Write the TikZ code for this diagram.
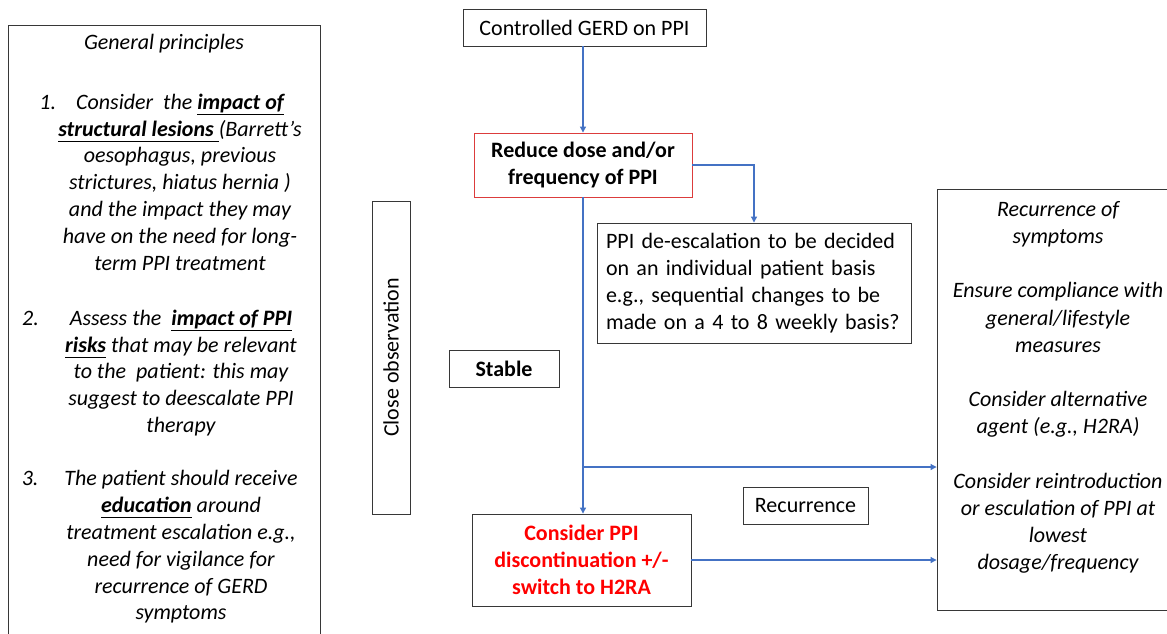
\documentclass[tikz,border=0pt]{standalone}
\usepackage{fontspec}
\setmainfont{Carlito}
\usetikzlibrary{arrows.meta,calc}
\definecolor{arrblue}{RGB}{68,114,196}
\definecolor{boxgray}{RGB}{55,55,55}
\definecolor{boxred}{RGB}{220,60,60}
\definecolor{txtred}{RGB}{255,0,0}
\newcommand{\ulx}[1]{\underline{#1\vphantom{p}}}
\newcommand{\mainfs}{\fontsize{22}{26.8}\selectfont}
\begin{document}
\begin{tikzpicture}[x=1pt,y=-1pt,
  box/.style={draw=boxgray, line width=0.9pt, inner sep=0pt, align=center, font=\mainfs},
  txt/.style={inner sep=0pt, align=center, font=\mainfs\itshape},
  arr/.style={draw=arrblue, line width=1.1pt, -{Triangle[length=6pt,width=6pt]}}]
\useasboundingbox (0,0) rectangle (1167,633);
\clip (0,0) rectangle (1167,633);
\fill[white] (0,0) rectangle (1167,633);

% left panel
\node[box, anchor=north west, minimum width=312pt, minimum height=630pt] (lbox) at (8,24.5) {};
\node[txt] (ltitle) at (164,44) {General principles};
\node[txt] (item1) at (180,182) {\llap{1.\hspace{20pt}}Consider\ \ the \ulx{\textbf{impact of}}\\
  \ulx{\textbf{structural lesions}\ }(Barrett’s\\oesophagus, previous\\strictures, hiatus hernia )\\
  and the impact they may\\have on the need for long-\\term PPI treatment};
\node[txt] (item2) at (181,373) {\llap{2.\hspace{31pt}}Assess the\ \ \ulx{\textbf{impact of PPI}}\\
  \ulx{\textbf{risks}} that may be relevant\\to the\ \ patient: this may\\suggest to deescalate PPI\\therapy};
\node[txt] (item3) at (181,547) {\llap{3.\hspace{26pt}}The patient should receive\\
  \ulx{\textbf{education}} around\\treatment escalation e.g.,\\need for vigilance for\\recurrence of GERD\\symptoms};

% flow
\node[box, minimum width=243pt, minimum height=36.5pt] (gerd) at (584.5,27.75) {Controlled GERD on PPI};
\node[box, draw=boxred, font=\mainfs\bfseries, minimum width=218pt, minimum height=64pt] (reduce) at (583,165) {Reduce dose and/or\\frequency of PPI};
\node[box, align=left, text width=296pt, inner xsep=9pt, minimum height=120pt] (deesc) at (754,283)
  {PPI de-escalation to be decided\\on an individual patient basis\\e.g., sequential changes to be\\made on a 4 to 8 weekly basis?};
\node[box, rotate=90, minimum width=313pt, minimum height=38pt] (closeobs) at (391,357.5) {Close observation};
\node[box, font=\mainfs\bfseries, minimum width=110pt, minimum height=37pt] (stable) at (504,368.5) {Stable};
\node[box, font=\mainfs\bfseries, text=txtred, minimum width=219pt, minimum height=92pt] (ppioff) at (581.5,560)
  {Consider PPI\\discontinuation +/-\\switch to H2RA};
\node[box, minimum width=125pt, minimum height=37pt] (recur) at (805.5,505.5) {Recurrence};
\node[box, minimum width=242pt, minimum height=421pt] (rbox) at (1058,399.5) {};
\node[txt, font=\fontsize{22}{27.2}\selectfont\itshape] (rtext) at (1058,387.5)
  {Recurrence of\\symptoms\\[27.2pt]Ensure compliance with\\general/lifestyle\\measures\\[27.2pt]%
   Consider alternative\\agent (e.g., H2RA)\\[27.2pt]Consider reintroduction\\or esculation of PPI at\\lowest\\dosage/frequency};

% connectors
\draw[arr] (gerd.south -| reduce.north) -- (reduce.north);
\draw[arr] (reduce.east) -| (deesc.north);
\draw[arr] (reduce.south) -- (reduce.south |- ppioff.north);
\coordinate (split) at (reduce.south |- 0,467);
\draw[arr] (split) -- (split -| rbox.west);
\draw[arr] (ppioff.east) -- (ppioff.east -| rbox.west);
\end{tikzpicture}
\end{document}
